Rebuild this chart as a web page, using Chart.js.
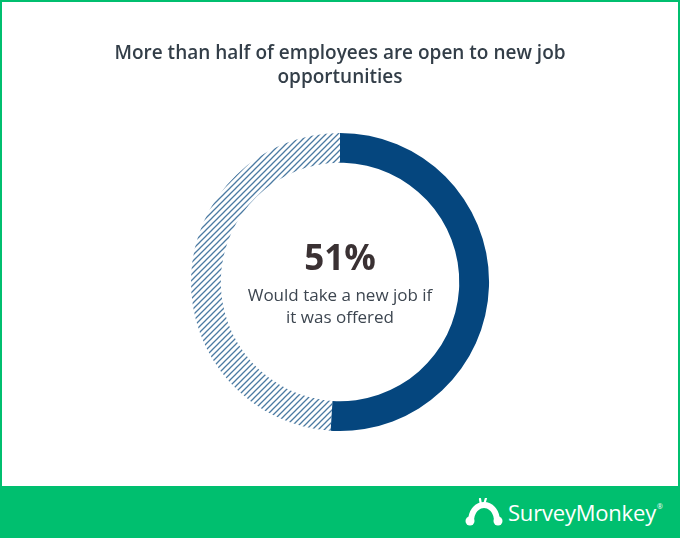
<!DOCTYPE html>
<html>
<head>
<meta charset="utf-8">
<script src="https://cdn.jsdelivr.net/npm/chart.js@4"></script>
<style>
  body { margin: 0; background: #fff; }
  #frame {
    position: relative; width: 680px; height: 538px; box-sizing: border-box;
    border: 2px solid #00bf6f; border-bottom: none; overflow: hidden;
  }
  #box { position: absolute; left: 0; top: 0; width: 676px; height: 484px; }
  #footer {
    position: absolute; left: -2px; bottom: 0; width: 680px; height: 52px; background: #00bf6f;
  }
  #logo {
    position: absolute; left: 508px; top: 11px; color: #fff; white-space: nowrap;
    font: 500 22px "Open Sans", sans-serif; letter-spacing: -0.2px;
  }
  #logo sup { font-size: 7px; vertical-align: 12px; margin-left: 1px; }
  #icon { position: absolute; left: 464px; top: 12px; }
</style>
</head>
<body>
<div id="frame">
  <div id="box"><canvas id="graficoVagas"></canvas></div>
  <div id="footer">
    <svg id="icon" width="40" height="30" viewBox="0 0 40 30">
      <path d="M7 24 C7 12, 14 7, 20 7 C26 7, 33 12, 33 24" fill="none" stroke="#fff" stroke-width="6"/>
      <circle cx="6" cy="23" r="4.5" fill="#fff"/>
      <circle cx="34" cy="23" r="4.5" fill="#fff"/>
      <path d="M17 7 L16 1 M20 7 L22 0" stroke="#fff" stroke-width="2.2" stroke-linecap="round"/>
    </svg>
    <div id="logo">SurveyMonkey<sup>®</sup></div>
  </div>
</div>
<script>
// dados
const rotulos = ['Would take a new job if it was offered', 'Would not take a new job'];
const valores = [51, 49];
const titulo = ['More than half of employees are open to new job', 'opportunities'];
const destaque = '51%';
const legendaCentro = ['Would take a new job if', 'it was offered'];

const azul = '#05467e';

// padrão listrado para a fatia restante
function listras() {
    const c = document.createElement('canvas');
    c.width = 6; c.height = 6;
    const g = c.getContext('2d');
    g.strokeStyle = 'rgba(5,70,126,0.72)';
    g.lineWidth = 1.3;
    g.beginPath();
    g.moveTo(0, 6); g.lineTo(6, 0);
    g.moveTo(-1, 1); g.lineTo(1, -1);
    g.moveTo(5, 7); g.lineTo(7, 5);
    g.stroke();
    return g.createPattern(c, 'repeat');
}

// texto no centro do anel
const textoCentro = {
    id: 'textoCentro',
    afterDraw(chart) {
        const ctx = chart.ctx;
        const m = chart.getDatasetMeta(0).data[0];
        const x = m.x, y = m.y;
        ctx.save();
        ctx.textAlign = 'center';
        ctx.textBaseline = 'middle';
        ctx.fillStyle = '#3a3133';
        ctx.font = 'bold 35px "Open Sans", sans-serif';
        ctx.fillText(destaque, x, y - 22);
        ctx.fillStyle = '#3d4650';
        ctx.font = '17px "Open Sans", sans-serif';
        ctx.fillText(legendaCentro[0], x, y + 14);
        ctx.fillText(legendaCentro[1], x, y + 36);
        ctx.restore();
    }
};

const ctxVagas = document.getElementById('graficoVagas');

new Chart(ctxVagas, {
    type: 'doughnut',
    data: {
        labels: rotulos,
        datasets: [{
            data: valores,
            backgroundColor: [azul, listras()],
            borderWidth: 0,
            hoverOffset: 0
        }]
    },
    options: {
        responsive: true,
        maintainAspectRatio: false,
        animation: false,
        cutout: '80%',
        layout: { padding: { top: 0, bottom: 55, left: 0, right: 0 } },
        plugins: {
            legend: { display: false },
            tooltip: { enabled: false },
            title: {
                display: true,
                text: titulo,
                color: '#333e48',
                font: { family: '"Open Sans", sans-serif', size: 19, weight: '600', lineHeight: 1.26 },
                padding: { top: 40, bottom: 43 }
            }
        }
    },
    plugins: [textoCentro]
});
</script>
</body>
</html>
